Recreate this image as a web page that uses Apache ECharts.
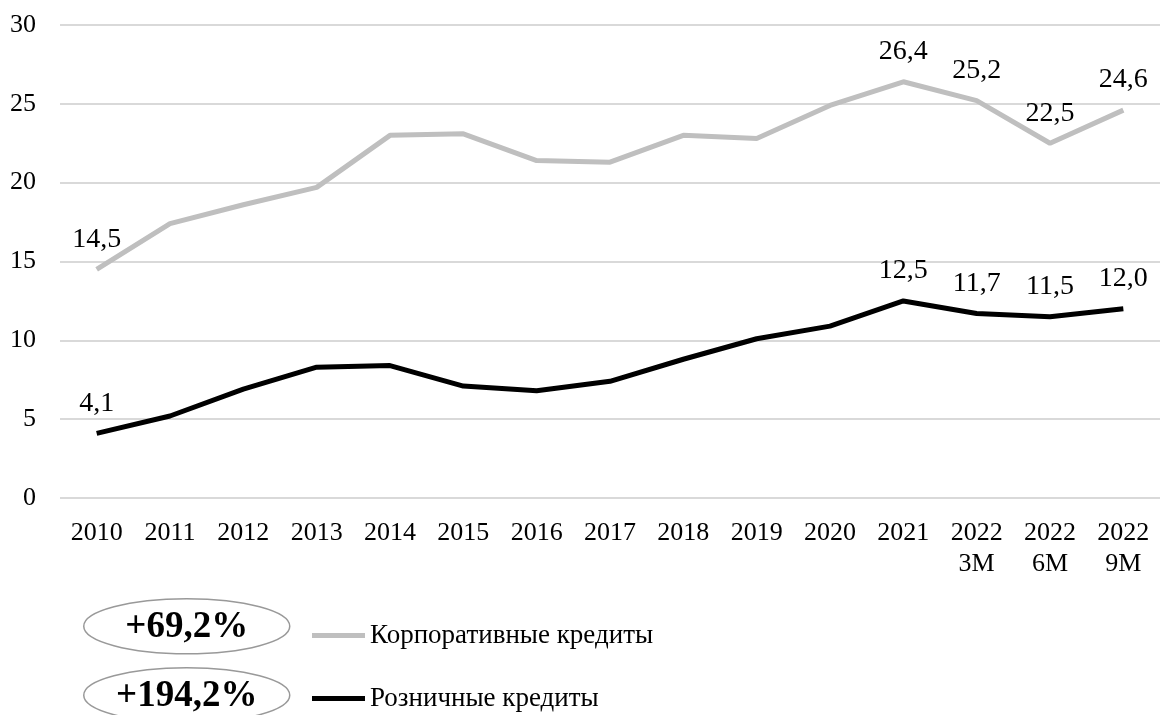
<!DOCTYPE html>
<html>
<head>
<meta charset="utf-8">
<style>
  html, body { margin: 0; padding: 0; background: #fff; }
  #chart { width: 1162px; height: 715px; }
</style>
<script src="https://cdn.jsdelivr.net/npm/echarts@6/dist/echarts.min.js"></script>
</head>
<body>
<div id="chart"></div>
<script>
var categories = ['2010', '2011', '2012', '2013', '2014', '2015', '2016', '2017',
    '2018', '2019', '2020', '2021', '2022\n3M', '2022\n6M', '2022\n9M'];
var corporate = [14.5, 17.4, 18.6, 19.7, 23.0, 23.1, 21.4, 21.3, 23.0, 22.8, 24.9, 26.4, 25.2, 22.5, 24.6];
var retail = [4.1, 5.2, 6.9, 8.3, 8.4, 7.1, 6.8, 7.4, 8.8, 10.1, 10.9, 12.5, 11.7, 11.5, 12.0];
var labelled = [0, 11, 12, 13, 14];
var seriesNames = ['Корпоративные кредиты', 'Розничные кредиты'];
var growth = ['+69,2%', '+194,2%'];

var font = 'Liberation Serif, Times New Roman, serif';

// only some points carry a value label
function withLabels(values) {
    return values.map(function (v, i) {
        if (labelled.indexOf(i) < 0) {
            return v;
        }
        return {value: v, label: {show: true}};
    });
}

function fmt(p) {
    return p.value.toFixed(1).replace('.', ',');
}

function lineSeries(name, values, color) {
    return {
        name: name,
        type: 'line',
        data: withLabels(values),
        color: color,
        lineStyle: {width: 5, color: color},
        symbol: 'circle',
        symbolSize: 0,
        showSymbol: true,
        label: {
            show: false,
            position: 'top',
            distance: 16,
            fontFamily: font,
            fontSize: 28,
            color: '#000',
            formatter: fmt
        }
    };
}

var chart = echarts.init(document.getElementById('chart'));

var option = {
    backgroundColor: '#fff',
    animation: false,
    textStyle: {fontFamily: font, color: '#000'},
    grid: {left: 60, right: 2, top: 25, bottom: 217},
    legend: {
        orient: 'vertical',
        left: 312,
        top: 622,
        padding: 0,
        itemWidth: 53,
        itemHeight: 5,
        itemGap: 36,
        icon: 'rect',
        textStyle: {fontFamily: font, fontSize: 27, color: '#000'},
        data: seriesNames
    },
    xAxis: {
        type: 'category',
        data: categories,
        axisLine: {show: false},
        axisTick: {show: false},
        axisLabel: {
            fontFamily: font,
            fontSize: 26,
            lineHeight: 31,
            color: '#000',
            margin: 20
        }
    },
    yAxis: {
        type: 'value',
        min: 0,
        max: 30,
        interval: 5,
        axisLine: {show: false},
        axisTick: {show: false},
        axisLabel: {fontFamily: font, fontSize: 26, color: '#000', margin: 24},
        splitLine: {lineStyle: {color: '#d9d9d9', width: 2}}
    },
    series: [
        lineSeries(seriesNames[0], corporate, '#bfbfbf'),
        lineSeries(seriesNames[1], retail, '#000')
    ],
    graphic: growth.map(function (txt, i) {
        return {
            type: 'group',
            left: 83,
            top: 598 + i * 69,
            children: [
                {
                    type: 'ellipse',
                    shape: {cx: 103, cy: 28, rx: 103, ry: 27.5},
                    style: {fill: '#fff', stroke: '#999', lineWidth: 1.5}
                },
                {
                    type: 'text',
                    x: 103,
                    y: 29,
                    style: {
                        text: txt,
                        fontFamily: font,
                        fontSize: 37,
                        fontWeight: 'bold',
                        fill: '#000',
                        align: 'center',
                        verticalAlign: 'middle'
                    }
                }
            ]
        };
    })
};

chart.setOption(option);
</script>
</body>
</html>
